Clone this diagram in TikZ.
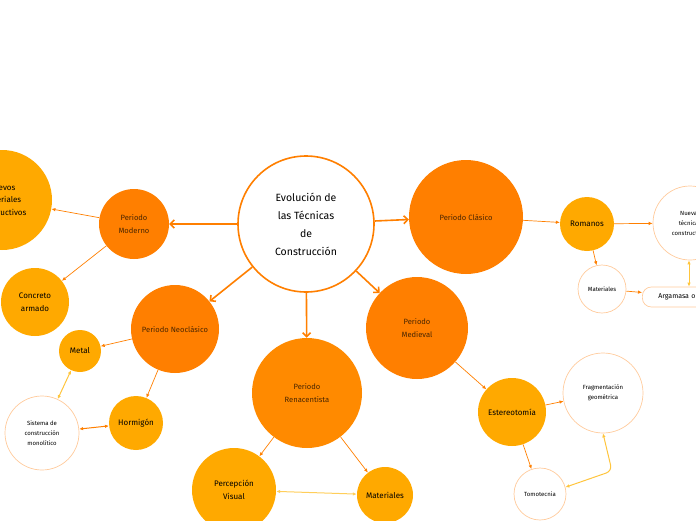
\documentclass[tikz,border=0pt]{standalone}
\usepackage{fontspec}
\setmainfont{Fira Sans}
\usepackage{tikz}
\usetikzlibrary{arrows.meta}
\definecolor{tangerine}{HTML}{FF7F00}
\definecolor{apricot}{HTML}{FF8A00}
\definecolor{saffron}{HTML}{FFA900}
\definecolor{peach}{HTML}{FFCB9C}
\definecolor{honey}{HTML}{FFC53D}
\definecolor{rust}{HTML}{4A2600}

\begin{document}
\begin{tikzpicture}[x=1pt,y=-1pt,
  hub/.style={circle,draw=tangerine,line width=1.6pt,fill=white,minimum size=136pt,inner sep=0pt,align=center,font=\fontsize{10.5}{18}\selectfont},
  period/.style={circle,fill=tangerine,text=rust,inner sep=0pt,align=center,font=\fontsize{7.6}{13}\selectfont},
  topic/.style={circle,fill=saffron,text=black,inner sep=0pt,align=center,font=\fontsize{8}{12.5}\selectfont},
  leaf/.style={circle,draw=peach,line width=0.7pt,fill=white,inner sep=0pt,align=center,font=\fontsize{6}{10}\selectfont},
  spoke/.style={tangerine,line width=1.6pt,-{Straight Barb[length=4pt,width=8pt]}},
  link/.style={tangerine,line width=0.7pt,-{Latex[length=4pt,width=3.5pt]}},
  twin/.style={honey,line width=1pt,{Latex[length=4pt,width=3.5pt]}-{Latex[length=4pt,width=3.5pt]}}]
\path[use as bounding box,clip] (0,0) rectangle (696,520);

\node[hub] (hub) at (306,224) {Evolución de\\las Técnicas\\de\\Construcción};

\node[period,minimum size=70pt] (moderno) at (134,224) {Periodo\\Moderno};
\node[period,minimum size=88pt] (neo) at (175,329) {Periodo Neoclásico};
\node[period,fill=apricot,minimum size=110pt] (rena) at (307,393) {Periodo\\Renacentista};
\node[period,minimum size=102pt] (medieval) at (417,328) {Periodo\\Medieval};
\node[period,minimum size=114pt] (clasico) at (466,217) {Periodo Clásico};

\node[topic,minimum size=100pt] (nuevos) at (2,200) {Nuevos\\materiales\\constructivos};
\node[topic,minimum size=68pt] (concreto) at (35,302) {Concreto\\armado};
\node[topic,minimum size=42pt] (metal) at (80,351) {Metal};
\node[topic,minimum size=54pt] (hormigon) at (136,423) {Hormigón};
\node[topic,minimum size=84pt] (percepcion) at (234,490) {Percepción\\Visual};
\node[topic,minimum size=56pt] (matrena) at (385,495) {Materiales};
\node[topic,minimum size=68pt] (estereo) at (512,412) {Estereotomía};
\node[topic,minimum size=54pt] (romanos) at (587,224) {Romanos};

\node[leaf,minimum size=74pt] (sistema) at (42,433) {Sistema de\\construcción\\monolítico};
\node[leaf,minimum size=80pt] (frag) at (603,393) {Fragmentación\\geométrica};
\node[leaf,minimum size=52pt] (tomo) at (540,494) {Tomotecnia};
\node[leaf,minimum size=48pt] (matrom) at (602,289) {Materiales};
\node[leaf,minimum size=74pt] (tecnicas) at (690,223) {Nuevas\\técnicas\\constructivas};
\node[leaf,shape=rectangle,rounded corners=9pt,anchor=west,minimum height=20pt,inner xsep=16pt,text width=72pt,align=left,font=\fontsize{7}{8}\selectfont] (argamasa) at (642,297) {Argamasa o};

\draw[spoke] (hub) -- (moderno);
\draw[spoke] (hub) -- (clasico);
\draw[spoke] (hub) -- (neo);
\draw[spoke] (hub) -- (rena);
\draw[spoke] (hub) -- (medieval);

\draw[link] (moderno) -- (nuevos);
\draw[link] (moderno) -- (concreto);
\draw[link] (neo) -- (metal);
\draw[link] (neo) -- (hormigon);
\draw[twin] (metal) -- (sistema);
\draw[twin,tangerine] (sistema) -- (hormigon);
\draw[link] (rena) -- (percepcion);
\draw[link] (rena) -- (matrena);
\draw[twin,honey!85] (percepcion) -- (matrena);
\draw[link] (medieval) -- (estereo);
\draw[link] (estereo) -- (frag);
\draw[link] (estereo) -- (tomo);
\coordinate (bend) at (612,471);
\draw[twin,rounded corners=6pt] (frag.south) -- (bend) -- (tomo.15);
\draw[link] (clasico) -- (romanos);
\draw[link] (romanos) -- (tecnicas);
\draw[link] (romanos) -- (matrom);
\draw[link] (matrom) -- (argamasa);
\draw[twin] (tecnicas.south -| 689,0) -- (argamasa.north -| 689,0);
\end{tikzpicture}
\end{document}
